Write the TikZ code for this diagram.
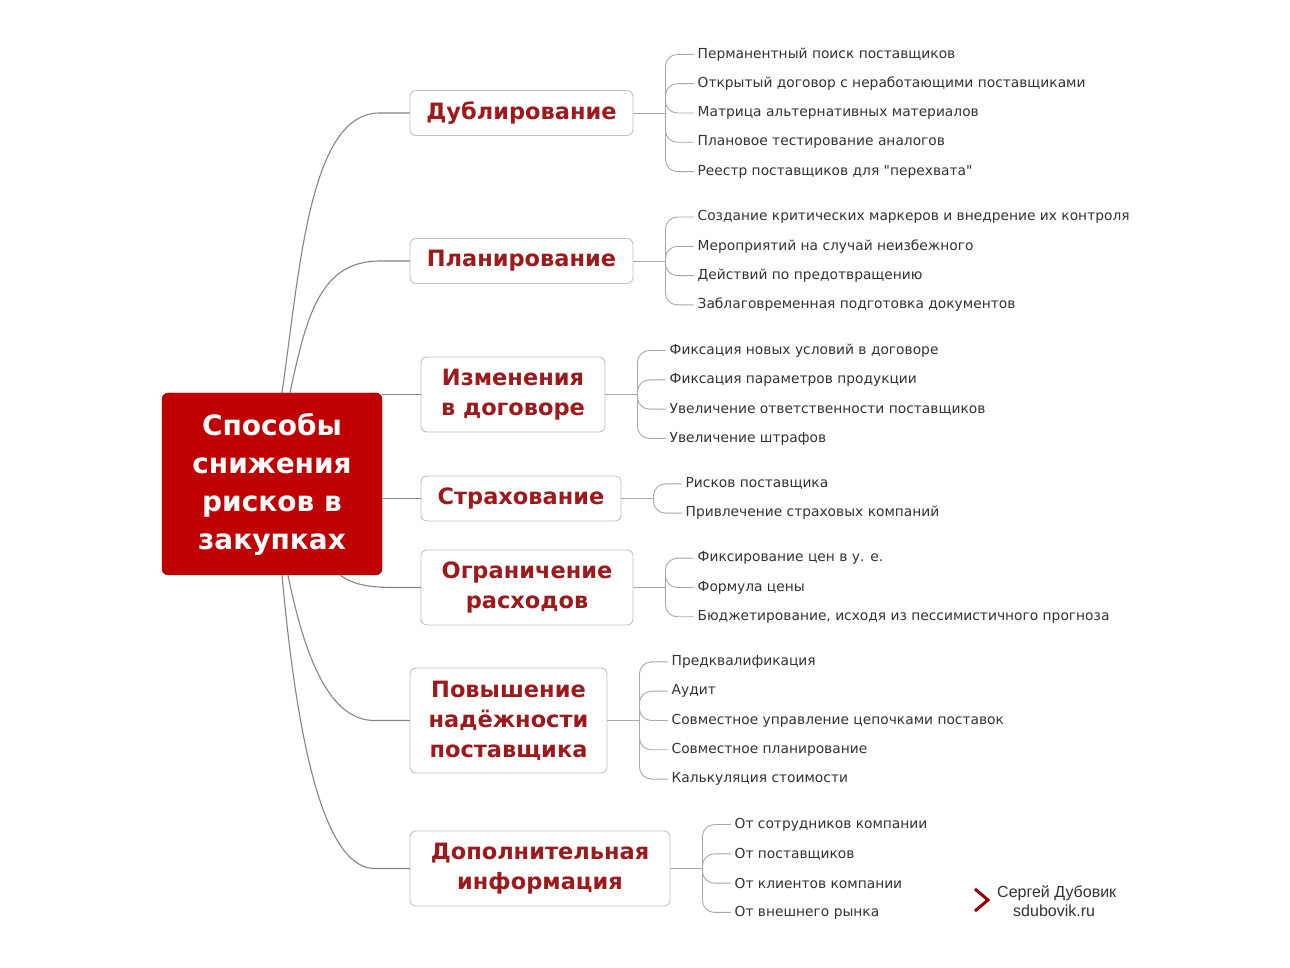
\documentclass[tikz,border=0pt]{standalone}
\usepackage{fontspec}
\setmainfont{DejaVu Sans}[Ligatures=TeXOff]
\newfontfamily\signfont{Liberation Sans}
\usetikzlibrary{arrows}
\definecolor{coreRed}{rgb}{0.75,0,0}
\definecolor{branchRed}{rgb}{0.61,0.1,0.11}
\definecolor{boxGray}{rgb}{0.76,0.76,0.76}
\definecolor{lineGray}{rgb}{0.52,0.52,0.52}
\definecolor{twigGray}{rgb}{0.66,0.66,0.66}
\definecolor{leafText}{rgb}{0.2,0.2,0.2}

\begin{document}
\begin{tikzpicture}[line cap=round,line join=round,x=1pt,y=1pt,
    core/.style={fill=coreRed,draw=coreRed!85!black,rounded corners=6pt,text=white,
      font=\fontsize{28}{38}\selectfont\bfseries,align=center,inner sep=0pt},
    branch/.style={draw=boxGray,fill=white,rounded corners=6pt,line width=0.9pt,text=branchRed,
      font=\fontsize{22.5}{30}\selectfont\bfseries,align=center,inner sep=0pt},
    leaf/.style={anchor=west,inner xsep=4pt,inner ysep=1pt,text=leafText,font=\fontsize{13.8}{17}\selectfont},
    limb/.style={draw=lineGray,line width=1.1pt},
    twig/.style={draw=twigGray,line width=0.9pt,rounded corners=12pt},
    sign/.style={anchor=west,inner sep=1pt,text=leafText,font=\signfont\fontsize{16}{18}\selectfont}]
    \fill[white] (0,0) rectangle (1290,968);
    \useasboundingbox (0,0) rectangle (1290,968);
    % centre and branches
    \node[core,minimum width=220,minimum height=182] (core) at (272,484) {Способы\\снижения\\рисков в\\закупках};
    \node[branch,minimum width=223,minimum height=45] (dub) at (521.5,855) {Дублирование};
    \node[branch,minimum width=223,minimum height=45] (plan) at (521.5,707) {Планирование};
    \node[branch,minimum width=184,minimum height=75] (izm) at (513,573.5) {Изменения\\в договоре};
    \node[branch,minimum width=200,minimum height=45] (strah) at (521,469.5) {Страхование};
    \node[branch,minimum width=212,minimum height=75] (ogr) at (527,380.5) {Ограничение\\расходов};
    \node[branch,minimum width=197,minimum height=105] (pov) at (508.5,247.5) {Повышение\\надёжности\\поставщика};
    \node[branch,minimum width=260,minimum height=75] (dop) at (540,99.5) {Дополнительная\\информация};
    % limbs
    \draw[limb] ([xshift=10]core.north) .. controls +(18,125) and +(-70,0) .. ([xshift=-30]dub.west) -- (dub.west);
    \draw[limb] ([xshift=18]core.north) .. controls +(16,75) and +(-60,0) .. ([xshift=-30]plan.west) -- (plan.west);
    \draw[limb] (core.east |- izm.west) -- (izm.west);
    \draw[limb] (core.east |- strah.west) -- (strah.west);
    \draw[limb] ([xshift=68]core.south) .. controls +(15,-10) and +(-25,0) .. ([xshift=-26]ogr.west) -- (ogr.west);
    \draw[limb] ([xshift=16]core.south) .. controls +(17,-83) and +(-45,0) .. ([xshift=-35]pov.west) -- (pov.west);
    \draw[limb] ([xshift=10]core.south) .. controls +(13,-143) and +(-55,0) .. ([xshift=-35]dop.west) -- (dop.west);
    % junctions
    \foreach \b in {dub,plan,izm,strah,ogr,pov,dop} {
      \coordinate (\b J) at ([xshift=32]\b.east);
      \draw[twig] (\b.east) -- (\b J);
    }
    % leaves
    \foreach \t [count=\i] in {Перманентный поиск поставщиков,Открытый договор с неработающими поставщиками,
        Матрица альтернативных материалов,Плановое тестирование аналогов,Реестр поставщиков для "перехвата"} {
      \node[leaf] (dub\i) at ([shift={(28,{29.3*(3-\i)})}]dubJ) {\t};
      \draw[twig] (dubJ) |- (dub\i.west);
    }
    \foreach \t [count=\i] in {Создание критических маркеров и внедрение их контроля,Мероприятий на случай неизбежного,
        Действий по предотвращению,Заблаговременная подготовка документов} {
      \node[leaf] (plan\i) at ([shift={(28,{29.3*(2.5-\i)})}]planJ) {\t};
      \draw[twig] (planJ) |- (plan\i.west);
    }
    \foreach \t [count=\i] in {Фиксация новых условий в договоре,Фиксация параметров продукции,
        Увеличение ответственности поставщиков,Увеличение штрафов} {
      \node[leaf] (izm\i) at ([shift={(28,{29.3*(2.5-\i)})}]izmJ) {\t};
      \draw[twig] (izmJ) |- (izm\i.west);
    }
    \foreach \t [count=\i] in {Рисков поставщика,Привлечение страховых компаний} {
      \node[leaf] (strah\i) at ([shift={(28,{29.3*(1.5-\i)})}]strahJ) {\t};
      \draw[twig] (strahJ) |- (strah\i.west);
    }
    \foreach \t [count=\i] in {Фиксирование цен в у. е.,Формула цены,
        {Бюджетирование, исходя из пессимистичного прогноза}} {
      \node[leaf] (ogr\i) at ([shift={(28,{29.3*(2-\i)})}]ogrJ) {\t};
      \draw[twig] (ogrJ) |- (ogr\i.west);
    }
    \foreach \t [count=\i] in {Предквалификация,Аудит,Совместное управление цепочками поставок,
        Совместное планирование,Калькуляция стоимости} {
      \node[leaf] (pov\i) at ([shift={(28,{29.3*(3-\i)})}]povJ) {\t};
      \draw[twig] (povJ) |- (pov\i.west);
    }
    \foreach \t [count=\i] in {От сотрудников компании,От поставщиков,От клиентов компании,От внешнего рынка} {
      \node[leaf] (dop\i) at ([shift={(28,{29.3*(2.5-\i)})}]dopJ) {\t};
      \draw[twig] (dopJ) |- (dop\i.west);
    }
    % signature
    \draw[draw=coreRed!80!black,line width=3pt,line cap=butt,line join=miter] (975,79) -- (988,68) -- (975,57);
    \node[sign] (author) at (996,75) {Сергей Дубовик};
    \node[sign] (site) at (1012,57) {sdubovik.ru};
\end{tikzpicture}
\end{document}
